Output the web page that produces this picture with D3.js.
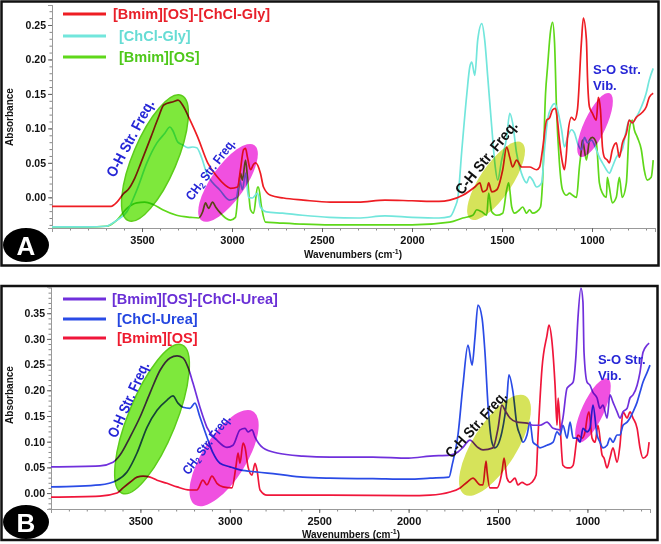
<!DOCTYPE html>
<html><head><meta charset="utf-8">
<script src="https://cdnjs.cloudflare.com/ajax/libs/d3/7.8.5/d3.min.js"></script>
<style>
body{margin:0;background:#fff}
svg{display:block}
text{font-family:"Liberation Sans",Arial,Helvetica,sans-serif}
.ann{font-family:"Liberation Sans Narrow","Arial Narrow","Liberation Sans",Arial,sans-serif;font-weight:bold}
</style>
</head><body>
<svg id="c" width="661" height="544"></svg>
<script>
// ---------------- DATA ----------------
const xTicks = [3500, 3000, 2500, 2000, 1500, 1000];
const yTicksA = [0, 0.05, 0.10, 0.15, 0.20, 0.25];
const yTicksB = [0, 0.05, 0.10, 0.15, 0.20, 0.25, 0.30, 0.35];
const legendA = ["[Bmim][OS]-[ChCl-Gly]", "[ChCl-Gly]", "[Bmim][OS]"];
const legendB = ["[Bmim][OS]-[ChCl-Urea]", "[ChCl-Urea]", "[Bmim][OS]"];

// Panel A: [wavenumber, absorbance]
const aRed = [[4000,-0.013],[3800,-0.013],[3672,-0.013],[3639,-0.007],[3600,0.006],[3578,0.011],[3540,0.028],[3506,0.050],[3451,0.087],[3410,0.115],[3379,0.134],[3323,0.139],[3300,0.141],[3268,0.131],[3240,0.116],[3190,0.087],[3135,0.050],[3080,0.029],[3040,0.018],[3008,0.013],[2969,0.015],[2953,0.040],[2936,0.069],[2925,0.071],[2914,0.058],[2897,0.040],[2880,0.048],[2869,0.050],[2842,0.035],[2825,0.015],[2786,0.003],[2714,-0.001],[2604,-0.004],[2454,-0.007],[2300,-0.007],[2150,-0.004],[2000,-0.005],[1850,-0.006],[1790,-0.004],[1718,0.003],[1651,0.015],[1623,0.021],[1607,0.008],[1585,0.011],[1574,0.021],[1557,0.008],[1529,0.011],[1496,0.040],[1474,0.073],[1457,0.058],[1441,0.044],[1419,0.054],[1391,0.044],[1347,0.044],[1308,0.040],[1291,0.044],[1275,0.069],[1252,0.112],[1236,0.115],[1219,0.127],[1203,0.129],[1192,0.112],[1181,0.083],[1164,0.050],[1153,0.040],[1142,0.064],[1136,0.087],[1114,0.116],[1097,0.112],[1081,0.127],[1059,0.224],[1048,0.260],[1031,0.228],[1025,0.174],[1014,0.131],[998,0.122],[976,0.112],[965,0.145],[953,0.127],[942,0.073],[931,0.058],[915,0.054],[904,0.050],[887,0.069],[865,0.079],[848,0.058],[831,0.079],[809,0.093],[793,0.112],[776,0.108],[754,0.116],[726,0.122],[699,0.131],[682,0.145],[660,0.151]];
const aCyan = [[4000,-0.043],[3800,-0.043],[3700,-0.042],[3639,-0.033],[3584,-0.021],[3528,0.011],[3473,0.050],[3417,0.079],[3373,0.093],[3345,0.102],[3329,0.097],[3301,0.080],[3273,0.076],[3246,0.072],[3218,0.073],[3196,0.072],[3168,0.057],[3141,0.035],[3107,0.021],[3069,0.011],[3014,-0.004],[2975,0.000],[2958,0.025],[2942,0.011],[2925,0.035],[2908,0.000],[2886,-0.001],[2858,0.006],[2842,-0.014],[2809,-0.021],[2720,-0.023],[2609,-0.026],[2460,-0.029],[2300,-0.030],[2150,-0.027],[2000,-0.029],[1850,-0.030],[1790,-0.028],[1762,-0.015],[1745,0.000],[1723,0.069],[1695,0.151],[1679,0.189],[1668,0.196],[1651,0.177],[1635,0.228],[1612,0.252],[1596,0.228],[1579,0.174],[1557,0.102],[1540,0.050],[1524,0.025],[1502,0.054],[1474,0.087],[1457,0.122],[1441,0.108],[1419,0.064],[1402,0.044],[1385,0.030],[1363,0.021],[1347,0.030],[1330,0.025],[1308,0.015],[1280,0.021],[1264,0.069],[1247,0.112],[1225,0.131],[1208,0.136],[1192,0.127],[1169,0.098],[1153,0.073],[1136,0.087],[1114,0.098],[1097,0.093],[1081,0.079],[1059,0.069],[1042,0.087],[1025,0.079],[1003,0.083],[976,0.069],[959,0.058],[942,0.050],[920,0.040],[904,0.035],[887,0.044],[865,0.058],[848,0.064],[832,0.069],[809,0.098],[793,0.112],[776,0.108],[754,0.116],[726,0.131],[699,0.151],[682,0.170],[660,0.187]];
const aGreen = [[4000,-0.043],[3800,-0.043],[3700,-0.042],[3639,-0.033],[3584,-0.016],[3529,-0.008],[3485,-0.007],[3441,-0.010],[3385,-0.018],[3308,-0.026],[3229,-0.029],[3185,-0.030],[3163,-0.021],[3147,-0.008],[3130,-0.016],[3108,-0.007],[3091,-0.014],[3064,-0.023],[3036,-0.030],[3008,-0.033],[2981,-0.029],[2964,0.011],[2953,0.035],[2942,0.025],[2925,0.054],[2914,0.029],[2897,-0.018],[2880,-0.023],[2858,0.015],[2853,0.015],[2836,-0.014],[2814,-0.036],[2748,-0.037],[2604,-0.039],[2454,-0.040],[2000,-0.040],[1790,-0.036],[1718,-0.030],[1662,-0.026],[1640,-0.018],[1612,-0.021],[1585,-0.026],[1574,0.006],[1557,-0.021],[1529,-0.026],[1496,-0.023],[1474,0.011],[1463,0.021],[1446,-0.014],[1430,-0.023],[1402,-0.018],[1385,-0.014],[1363,-0.023],[1347,-0.018],[1330,-0.023],[1308,-0.021],[1286,-0.014],[1275,0.021],[1258,0.151],[1247,0.189],[1230,0.242],[1219,0.254],[1208,0.224],[1197,0.127],[1181,0.050],[1164,0.011],[1142,0.003],[1125,0.006],[1108,0.003],[1086,0.000],[1070,0.044],[1059,0.069],[1053,0.083],[1031,0.054],[1014,0.083],[998,0.087],[976,0.079],[959,0.021],[942,0.006],[920,0.000],[915,0.029],[904,0.015],[887,-0.008],[865,0.000],[848,0.029],[832,0.000],[809,0.021],[793,0.098],[776,0.112],[765,0.098],[748,0.087],[726,0.069],[710,0.040],[693,0.025],[671,0.029],[660,0.054]];

// Panel B
const bPurple = [[4000,0.051],[3726,0.053],[3653,0.060],[3614,0.074],[3558,0.109],[3502,0.148],[3446,0.195],[3390,0.239],[3334,0.263],[3295,0.267],[3262,0.263],[3234,0.245],[3206,0.214],[3167,0.167],[3128,0.128],[3072,0.103],[3016,0.089],[2982,0.093],[2943,0.123],[2915,0.126],[2898,0.119],[2876,0.123],[2859,0.109],[2814,0.088],[2736,0.078],[2591,0.072],[2440,0.070],[2200,0.070],[2000,0.068],[1880,0.072],[1768,0.074],[1724,0.080],[1696,0.089],[1657,0.103],[1617,0.090],[1584,0.084],[1528,0.088],[1500,0.126],[1478,0.171],[1461,0.161],[1433,0.146],[1394,0.138],[1338,0.136],[1304,0.132],[1265,0.132],[1226,0.138],[1192,0.126],[1153,0.123],[1137,0.146],[1114,0.204],[1097,0.210],[1080,0.216],[1064,0.268],[1053,0.340],[1036,0.399],[1025,0.372],[1019,0.274],[1002,0.216],[986,0.210],[969,0.196],[946,0.185],[930,0.165],[913,0.171],[890,0.146],[874,0.191],[857,0.177],[834,0.158],[818,0.146],[801,0.158],[778,0.165],[762,0.185],[745,0.191],[722,0.210],[706,0.235],[689,0.274],[666,0.288],[655,0.292]];
const bBlue = [[4000,0.012],[3726,0.016],[3631,0.025],[3575,0.041],[3519,0.078],[3463,0.128],[3407,0.161],[3351,0.181],[3318,0.189],[3290,0.175],[3262,0.167],[3223,0.165],[3195,0.175],[3167,0.148],[3128,0.109],[3094,0.078],[3055,0.058],[2999,0.051],[2943,0.045],[2848,0.041],[2736,0.037],[2591,0.031],[2440,0.029],[2200,0.028],[2000,0.027],[1880,0.029],[1774,0.031],[1757,0.054],[1724,0.113],[1696,0.210],[1668,0.288],[1645,0.249],[1629,0.302],[1612,0.366],[1589,0.340],[1573,0.274],[1556,0.171],[1534,0.099],[1517,0.088],[1478,0.119],[1450,0.185],[1439,0.230],[1416,0.196],[1394,0.132],[1377,0.113],[1360,0.099],[1338,0.113],[1321,0.138],[1304,0.099],[1282,0.093],[1265,0.088],[1226,0.093],[1192,0.099],[1170,0.119],[1153,0.113],[1137,0.132],[1114,0.107],[1097,0.138],[1080,0.107],[1058,0.107],[1041,0.099],[1025,0.126],[1002,0.119],[986,0.126],[969,0.171],[946,0.113],[930,0.099],[913,0.088],[890,0.093],[874,0.107],[857,0.099],[834,0.113],[818,0.113],[801,0.132],[778,0.138],[762,0.146],[745,0.158],[722,0.177],[706,0.196],[689,0.216],[666,0.235],[650,0.249]];
const bRed = [[4000,-0.008],[3726,-0.006],[3631,0.000],[3597,0.010],[3558,0.021],[3519,0.031],[3485,0.033],[3446,0.031],[3407,0.025],[3351,0.019],[3295,0.012],[3223,0.006],[3184,0.006],[3150,0.025],[3128,0.016],[3100,0.033],[3072,0.019],[3038,0.012],[2988,0.010],[2966,0.051],[2954,0.078],[2943,0.058],[2926,0.097],[2915,0.089],[2898,0.051],[2876,0.035],[2859,0.058],[2848,0.045],[2831,0.006],[2792,-0.004],[2702,-0.004],[2440,-0.004],[2000,-0.005],[1880,-0.004],[1768,0.002],[1712,0.010],[1673,0.021],[1640,0.029],[1600,0.016],[1584,0.016],[1567,0.062],[1561,0.041],[1545,0.010],[1506,0.010],[1478,0.041],[1466,0.068],[1450,0.029],[1433,0.021],[1405,0.029],[1389,0.016],[1366,0.021],[1338,0.016],[1310,0.021],[1287,0.035],[1276,0.113],[1254,0.243],[1226,0.307],[1215,0.327],[1198,0.294],[1181,0.210],[1170,0.132],[1164,0.185],[1153,0.132],[1137,0.054],[1114,0.049],[1097,0.049],[1080,0.054],[1058,0.107],[1053,0.113],[1030,0.107],[1013,0.119],[1002,0.146],[991,0.158],[974,0.107],[957,0.099],[941,0.132],[918,0.074],[907,0.068],[890,0.049],[874,0.068],[857,0.088],[834,0.060],[818,0.093],[801,0.158],[778,0.146],[762,0.158],[745,0.146],[722,0.126],[706,0.088],[689,0.068],[666,0.074],[655,0.099]];

// ---------------- DRAW ----------------
const svg = d3.select("#c");
svg.append("rect").attr("width",661).attr("height",544).attr("fill","#fff");

const BLUE_TXT = "#2626d6";

function drawPanel(cfg){
  const g = svg.append("g");
  const x = d3.scaleLinear().domain([4000,650]).range(cfg.xr);
  const y = d3.scaleLinear().domain(cfg.yd).range(cfg.yr);
  const x0 = cfg.xr[0], yb = cfg.yr[0];

  // frame
  g.append("rect").attr("x",cfg.frame[0]).attr("y",cfg.frame[1]).attr("width",cfg.frame[2]).attr("height",cfg.frame[3])
    .attr("fill","none").attr("stroke","#111").attr("stroke-width",2.5);

  // axes: minor ticks
  const minorX = d3.range(3900, 650, -100);
  const gxm = g.append("g").attr("transform",`translate(0,${yb})`)
    .call(d3.axisBottom(x).tickValues(minorX).tickSize(2.5).tickFormat(""));
  const gym = g.append("g").attr("transform",`translate(${x0},0)`)
    .call(d3.axisLeft(y).tickValues(d3.range(Math.ceil(cfg.yd[0]*100), Math.floor(cfg.yd[1]*100)+1).map(v=>v/100)).tickSize(2.5).tickFormat(""));
  [gxm,gym].forEach(a=>{a.select(".domain").attr("stroke","#999");a.selectAll(".tick line").attr("stroke","#888");});

  const gx = g.append("g").attr("transform",`translate(0,${yb})`)
    .call(d3.axisBottom(x).tickValues(xTicks).tickSize(4).tickPadding(4).tickFormat(d3.format("d")));
  const gy = g.append("g").attr("transform",`translate(${x0},0)`)
    .call(d3.axisLeft(y).tickValues(cfg.yTicks).tickSize(4).tickPadding(2).tickFormat(d3.format(".2f")));
  [gx,gy].forEach(a=>{
    a.select(".domain").attr("stroke","#999");
    a.selectAll(".tick line").attr("stroke","#666");
    a.selectAll(".tick text").attr("fill","#111").attr("font-weight","bold")
      .style("font-family",'"Liberation Sans",Arial,sans-serif');
  });
  gx.selectAll(".tick text").attr("font-size",11);
  gy.selectAll(".tick text").attr("font-size",10.5);

  // axis titles
  g.append("text").attr("transform",`translate(${cfg.ylab[0]},${cfg.ylab[1]}) rotate(-90)`)
    .attr("text-anchor","middle").attr("dominant-baseline","central")
    .attr("font-size",10).attr("font-weight","bold").attr("fill","#111").text("Absorbance");
  const xl = g.append("text").attr("x",cfg.xlab[0]).attr("y",cfg.xlab[1])
    .attr("text-anchor","middle").attr("font-size",10).attr("font-weight","bold").attr("fill","#111");
  xl.append("tspan").text("Wavenumbers (cm");
  xl.append("tspan").attr("dy",-4).attr("font-size",7).text("-1");
  xl.append("tspan").attr("dy",4).text(")");

  // spectra
  const line = d3.line().x(d=>x(d[0])).y(d=>y(d[1])).curve(d3.curveMonotoneX);
  cfg.series.forEach(s=>{
    g.append("path").datum(s.data).attr("d",line).attr("fill","none")
      .attr("stroke",s.color).attr("stroke-width",1.7).attr("stroke-linejoin","round");
  });

  // highlight ellipses (centre in data units, size in px)
  cfg.ellipses.forEach(e=>{
    g.append("ellipse").attr("transform",`translate(${x(e.w)},${y(e.v)}) rotate(${e.ang})`)
      .attr("rx",e.rx).attr("ry",e.ry).attr("fill",e.fill).attr("stroke",e.stroke||"none").attr("stroke-width",1.5)
      .style("mix-blend-mode","multiply");
  });

  // rotated labels
  cfg.labels.forEach(l=>{
    const t = g.append("text").attr("class","ann")
      .attr("transform",`translate(${x(l.w)},${y(l.v)}) rotate(${l.ang})`)
      .attr("text-anchor","middle").attr("dominant-baseline","central")
      .attr("font-size",l.fs).attr("fill",l.color)
      .attr("textLength",l.len).attr("lengthAdjust","spacingAndGlyphs");
    if(l.sub){
      t.append("tspan").text("CH");
      t.append("tspan").attr("dy",4).attr("font-size",l.fs*0.7).text("2");
      t.append("tspan").attr("dy",-4).text(" Str. Freq.");
    } else t.text(l.text);
  });
  // S-O label
  cfg.so.forEach(s=>{
    g.append("text").attr("class","ann").attr("x",x(s.w)).attr("y",y(s.v)).attr("dominant-baseline","central")
      .attr("font-size",13).attr("fill",BLUE_TXT).style("font-family",'"Liberation Sans",Arial,sans-serif').text(s.text);
  });

  // legend
  cfg.legend.forEach((lg,i)=>{
    const yy = cfg.legY[i];
    g.append("line").attr("x1",63).attr("x2",106).attr("y1",yy).attr("y2",yy)
      .attr("stroke",cfg.series[cfg.legIdx[i]].color).attr("stroke-width",3);
    g.append("text").attr("x",cfg.legX[i]).attr("y",yy).attr("dominant-baseline","central")
      .attr("font-size",14.5).attr("font-weight","bold").attr("fill",cfg.legColors[i]).text(lg);
  });

  // panel badge
  g.append("ellipse").attr("cx",cfg.badge[0]).attr("cy",cfg.badge[1]).attr("rx",23).attr("ry",17).attr("fill","#000");
  g.append("text").attr("x",cfg.badge[0]).attr("y",cfg.badge[1]+1).attr("text-anchor","middle").attr("dominant-baseline","central")
    .attr("font-size",26).attr("font-weight","bold").attr("fill","#fff").text(cfg.name);
}

const GREEN_E = {fill:"#7ee83c", stroke:"#5ccc1a"};
const PINK_E = {fill:"#f050e0"};
const YEL_E = {fill:"#d6e35a"};

drawPanel({
  name:"A", frame:[1.5,1.5,657,264], xr:[52,655], yr:[228,5], yd:[-0.0445,0.279], yTicks:yTicksA,
  ylab:[9,117], xlab:[353,258], badge:[26,245],
  series:[{data:aGreen,color:"#5fd81a"},{data:aCyan,color:"#72e6dc"},{data:aRed,color:"#ee1d23"}],
  legIdx:[2,1,0], legY:[14,36,57], legX:[113,119,119],
  legColors:["#e8202a","#66dcd4","#4ec81a"], legend:legendA,
  ellipses:[
    Object.assign({w:3428,v:0.057,rx:68,ry:22,ang:-67},GREEN_E),
    Object.assign({w:3022,v:0.021,rx:46,ry:17,ang:-55},PINK_E),
    Object.assign({w:1533,v:0.024,rx:46,ry:16,ang:-56},YEL_E),
    Object.assign({w:983,v:0.105,rx:35,ry:11,ang:-65},PINK_E)
  ],
  labels:[
    {text:"O-H Str. Freq.",w:3567,v:0.086,ang:-62,len:85,fs:15,color:BLUE_TXT},
    {sub:true,w:3122,v:0.041,ang:-53,len:73,fs:13,color:BLUE_TXT},
    {text:"C-H Str. Freq.",w:1589,v:0.058,ang:-51,len:90,fs:15,color:"#111"}
  ],
  so:[{text:"S-O Str.",w:994,v:0.186},{text:"Vib.",w:994,v:0.162}]
});

drawPanel({
  name:"B", frame:[1.5,286,656,254], xr:[51,650], yr:[509,287], yd:[-0.031,0.401], yTicks:yTicksB,
  ylab:[9,395], xlab:[351,538], badge:[26,522],
  series:[{data:bRed,color:"#f0163a"},{data:bBlue,color:"#2a4be6"},{data:bPurple,color:"#7030dc"}],
  legIdx:[2,1,0], legY:[299,319,338], legX:[112,117,117],
  legColors:["#6a2fd6","#2446e0","#ee1b2e"], legend:legendB,
  ellipses:[
    Object.assign({w:3435,v:0.144,rx:80,ry:24,ang:-68},GREEN_E),
    Object.assign({w:3032,v:0.068,rx:55,ry:22,ang:-58},PINK_E),
    Object.assign({w:1517,v:0.093,rx:58,ry:22,ang:-58},YEL_E),
    Object.assign({w:969,v:0.161,rx:35,ry:11,ang:-65},PINK_E)
  ],
  labels:[
    {text:"O-H Str. Freq.",w:3569,v:0.182,ang:-66,len:81,fs:15,color:BLUE_TXT},
    {sub:true,w:3133,v:0.095,ang:-53,len:71,fs:13,color:BLUE_TXT},
    {text:"C-H Str. Freq.",w:1624,v:0.134,ang:-48,len:84,fs:15,color:"#111"}
  ],
  so:[{text:"S-O Str.",w:941,v:0.259},{text:"Vib.",w:941,v:0.228}]
});
</script>
</body></html>
